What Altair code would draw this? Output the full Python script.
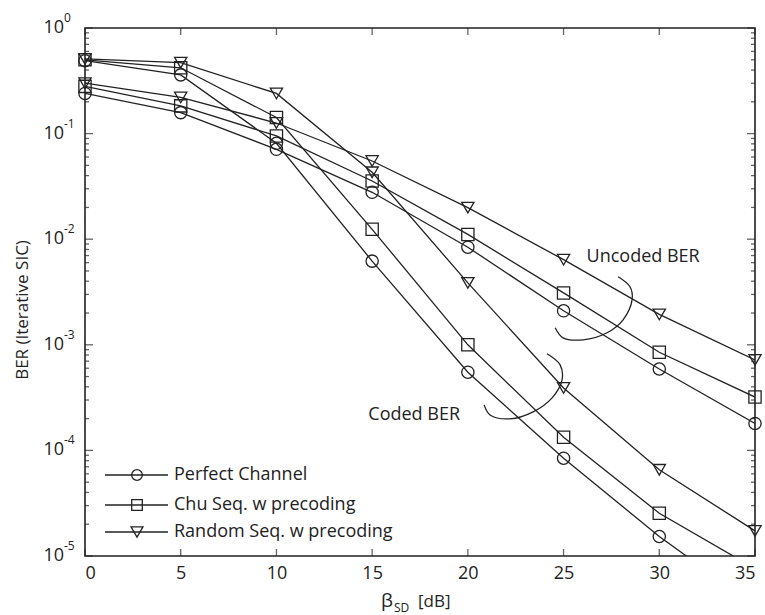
import altair as alt
import pandas as pd
import numpy as np

# ---------------- data ----------------
snr_db = [0, 5, 10, 15, 20, 25, 30, 35]

unc_perfect = [0.24, 0.158, 0.071, 0.0278, 0.0084, 0.0021, 0.00059, 0.00018]
unc_chu = [0.28, 0.183, 0.095, 0.0356, 0.0111, 0.0031, 0.00085, 0.00032]
unc_random = [0.30, 0.22, 0.126, 0.055, 0.0199, 0.0064, 0.00194, 0.00072]

cod_perfect = [0.49, 0.36, 0.081, 0.0062, 0.00055, 0.0000843, 0.0000153, 0.0000034]
cod_chu = [0.50, 0.42, 0.142, 0.0124, 0.0010, 0.000133, 0.0000254, 0.0000076]
cod_random = [0.51, 0.47, 0.24, 0.043, 0.00386, 0.00039, 0.0000655, 0.0000173]

scheme_names = ["Perfect Channel", "Chu Seq. w precoding", "Random Seq. w precoding"]
scheme_shapes = ["circle", "square", "triangle-down"]
scheme_sizes = [150, 150, 190]

x_ticks = [0, 5, 10, 15, 20, 25, 30, 35]
y_major = [1e-5, 1e-4, 1e-3, 1e-2, 1e-1, 1e0]
y_exp_labels = ["-5", "-4", "-3", "-2", "-1", "0"]

# annotation brackets (x in dB, log10 of BER)
arc_unc_x = [24.56, 24.97, 26.02, 27.27, 28.11, 28.58, 28.47, 27.85]
arc_unc_logy = [-2.839, -2.934, -2.953, -2.886, -2.763, -2.573, -2.450, -2.355]
arc_cod_x = [20.85, 21.16, 22.20, 23.41, 24.40, 24.92, 24.82, 24.14]
arc_cod_logy = [-3.569, -3.664, -3.701, -3.635, -3.502, -3.332, -3.190, -3.085]

annot_text = ["Uncoded BER", "Coded BER"]
annot_x = [26.2, 14.8]
annot_logy = [-2.166, -3.664]

FONT = "Open Sans"
W, H = 670, 528

# ---------------- tables ----------------
rows = []
for grp, series_list in (("uncoded", [unc_perfect, unc_chu, unc_random]),
                         ("coded", [cod_perfect, cod_chu, cod_random])):
    for name, vals in zip(scheme_names, series_list):
        for xv, yv in zip(snr_db, vals):
            rows.append({"snr": xv, "ber": yv, "scheme": name, "series": grp + " " + name})
df = pd.DataFrame(rows)

arc_rows = []
for arc_id, xs_, lys in (("u", arc_unc_x, arc_unc_logy), ("c", arc_cod_x, arc_cod_logy)):
    for i, (xv, lv) in enumerate(zip(xs_, lys)):
        arc_rows.append({"arc": arc_id, "i": i, "snr": xv, "ber": 10 ** lv})
arc_df = pd.DataFrame(arc_rows)

annot_df = pd.DataFrame({"t": annot_text, "snr": annot_x, "ber": [10 ** v for v in annot_logy]})

y_minor = [k * 10.0 ** e for e in range(-5, 0) for k in range(2, 10)]
ymaj_df = pd.DataFrame({"ber": y_major, "exp": y_exp_labels})
ymin_df = pd.DataFrame({"ber": y_minor})
xt_df = pd.DataFrame({"snr": x_ticks})

xs = alt.Scale(domain=[0, 35], nice=False, zero=False)
ys = alt.Scale(type="log", domain=[1e-5, 1], nice=False)

X = alt.X("snr:Q", scale=xs,
          axis=alt.Axis(values=x_ticks, ticks=False, domain=False, grid=False,
                        labelFont=FONT, labelFontSize=18, labelColor="#222",
                        labelPadding=8, title=None))
Y = alt.Y("ber:Q", scale=ys, axis=None)

shape_enc = alt.Shape("scheme:N", scale=alt.Scale(domain=scheme_names, range=scheme_shapes), legend=None)
size_enc = alt.Size("scheme:N", scale=alt.Scale(domain=scheme_names, range=scheme_sizes), legend=None)

lines = alt.Chart(df).mark_line(color="#222", strokeWidth=1.3, clip=True).encode(
    x=X, y=Y, detail="series:N")

points = alt.Chart(df).transform_filter(alt.datum.ber >= 1e-5).mark_point(
    filled=False, color="#222", strokeWidth=1.3, opacity=1).encode(
    x=X, y=Y, shape=shape_enc, size=size_enc, detail="series:N")

arcs = alt.Chart(arc_df).mark_line(color="#222", strokeWidth=1.3, interpolate="catmull-rom").encode(
    x=X, y=Y, detail="arc:N", order="i:Q")

annots = alt.Chart(annot_df).mark_text(align="left", baseline="middle", font=FONT,
                                        fontSize=18, color="#222").encode(x=X, y=Y, text="t:N")

# inward ticks (box style)
tick_style = dict(color="#222", thickness=1.3)
yl_major = alt.Chart(ymaj_df).mark_tick(orient="horizontal", size=8, **tick_style).encode(
    y=Y, x=alt.value(4))
yr_major = alt.Chart(ymaj_df).mark_tick(orient="horizontal", size=8, **tick_style).encode(
    y=Y, x=alt.value(W - 4))
yl_minor = alt.Chart(ymin_df).mark_tick(orient="horizontal", size=4, **tick_style).encode(
    y=Y, x=alt.value(2))
yr_minor = alt.Chart(ymin_df).mark_tick(orient="horizontal", size=4, **tick_style).encode(
    y=Y, x=alt.value(W - 2))
xb = alt.Chart(xt_df).mark_tick(orient="vertical", size=7, **tick_style).encode(
    x=X, y=alt.value(H - 3.5))
xtp = alt.Chart(xt_df).mark_tick(orient="vertical", size=7, **tick_style).encode(
    x=X, y=alt.value(3.5))

# y tick labels 10^n
ylab_base = alt.Chart(ymaj_df).mark_text(align="right", baseline="middle", font=FONT,
                                          fontSize=18, color="#222").encode(
    y=Y, x=alt.value(-21), text=alt.value("10"))
ylab_exp = alt.Chart(ymaj_df).mark_text(align="left", baseline="middle", font=FONT,
                                         fontSize=12, color="#222", dy=-10).encode(
    y=Y, x=alt.value(-21), text="exp:N")

one = pd.DataFrame({"a": [0]})
ytitle = alt.Chart(one).mark_text(angle=270, align="center", baseline="middle", font=FONT,
                                  fontSize=17, color="#222").encode(
    x=alt.value(-62), y=alt.value(282), text=alt.value("BER (Iterative SIC)"))
xt_beta = alt.Chart(one).mark_text(align="left", baseline="alphabetic", font=FONT,
                                   fontSize=19, color="#222").encode(
    x=alt.value(296), y=alt.value(579), text=alt.value("β"))
xt_sd = alt.Chart(one).mark_text(align="left", baseline="alphabetic", font=FONT,
                                 fontSize=12, color="#222").encode(
    x=alt.value(309), y=alt.value(584), text=alt.value("SD"))
xt_db = alt.Chart(one).mark_text(align="left", baseline="alphabetic", font=FONT,
                                 fontSize=17, color="#222").encode(
    x=alt.value(333), y=alt.value(579), text=alt.value("[dB]"))

# legend
legend_layers = []
leg_rows_y = [447, 477, 504]
for name, shp, sz, py in zip(scheme_names, scheme_shapes, scheme_sizes, leg_rows_y):
    legend_layers.append(alt.Chart(one).mark_rule(color="#222", strokeWidth=1.3).encode(
        x=alt.value(20), x2=alt.value(83), y=alt.value(py)))
    legend_layers.append(alt.Chart(one).mark_point(filled=False, color="#222", strokeWidth=1.3,
                                                   opacity=1).encode(
        x=alt.value(52), y=alt.value(py), shape=alt.value(shp), size=alt.value(sz * 0.75)))
    legend_layers.append(alt.Chart(one).mark_text(align="left", baseline="middle", font=FONT,
                                                  fontSize=18, color="#222").encode(
        x=alt.value(89), y=alt.value(py), text=alt.value(name)))

chart = alt.layer(
    lines, points, arcs, annots,
    yl_major, yr_major, yl_minor, yr_minor, xb, xtp,
    ylab_base, ylab_exp, ytitle, xt_beta, xt_sd, xt_db,
    *legend_layers
).properties(
    width=W, height=H,
    autosize=alt.AutoSizeParams(type="none"),
    padding={"left": 85, "top": 28, "right": 10, "bottom": 59},
    background="white",
).configure_view(stroke="#222", strokeWidth=1.6)

chart.save("out.html", embed_options={"renderer": "svg", "actions": False})
